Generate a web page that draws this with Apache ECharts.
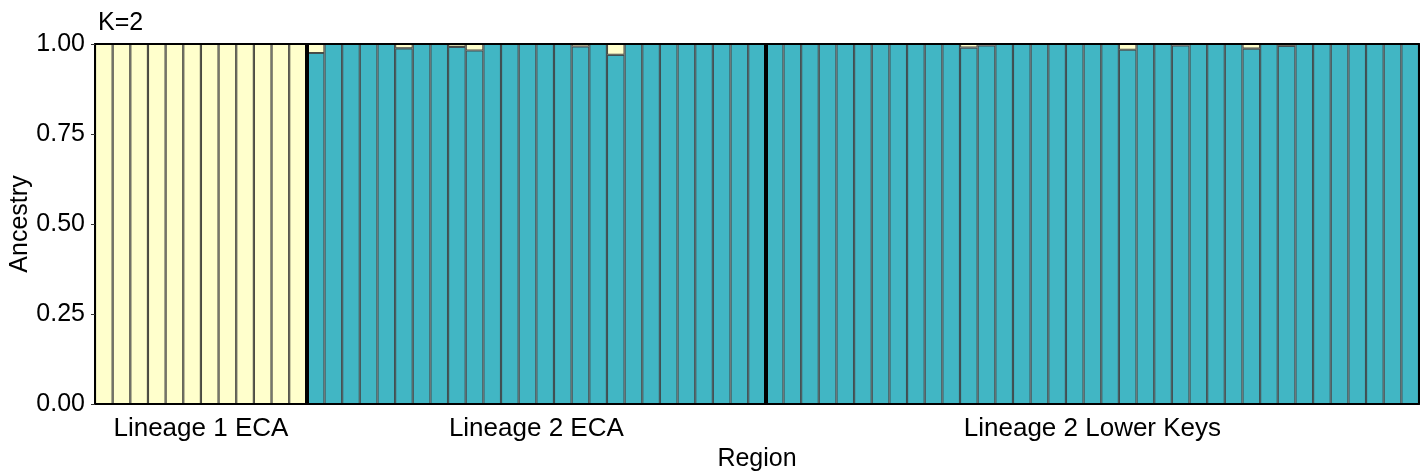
<!DOCTYPE html>
<html>
<head>
<meta charset="utf-8">
<script src="https://cdn.jsdelivr.net/npm/echarts@6/dist/echarts.min.js"></script>
<style>
  html, body { margin: 0; padding: 0; background: #fff; }
  #chart { width: 1424px; height: 472px; }
</style>
</head>
<body>
<div id="chart"></div>
<script>
// groups in sample order
var groupNames = ['Lineage 1 ECA', 'Lineage 2 ECA', 'Lineage 2 Lower Keys'];
var groupSizes = [12, 26, 37];

// ancestry in cluster 1 (yellow), one value per sample
var cluster1 = [
  // Lineage 1 ECA
  1, 1, 1, 1, 1, 1, 1, 1, 1, 1, 1, 1,
  // Lineage 2 ECA
  0.025, 0, 0, 0, 0, 0.012, 0, 0, 0.008, 0.018, 0, 0, 0,
  0, 0, 0.007, 0, 0.03, 0, 0, 0, 0, 0, 0, 0, 0,
  // Lineage 2 Lower Keys
  0, 0, 0, 0, 0, 0, 0, 0, 0, 0, 0, 0.01, 0.004,
  0, 0, 0, 0, 0, 0, 0, 0.016, 0, 0, 0.004, 0, 0,
  0, 0.013, 0, 0.005, 0, 0, 0, 0, 0, 0, 0
];
var yTicks = [0, 0.25, 0.5, 0.75, 1];

var samples = cluster1.map(function (v, i) { return 'S' + (i + 1); });
var cluster2 = cluster1.map(function (v) { return +(1 - v).toFixed(3); });

// boundaries and centres of the groups, in sample units
var bounds = [];
var centres = [];
var acc = 0;
groupSizes.forEach(function (n) {
  centres.push(acc + n / 2);
  acc += n;
  bounds.push(acc);
});
bounds.pop();

var font = 'Liberation Sans, Arial, Helvetica, sans-serif';
var chart = echarts.init(document.getElementById('chart'));

var option = {
  animation: false,
  title: {
    text: 'K=2',
    left: 93,
    top: 6,
    textStyle: { fontFamily: font, fontSize: 25, fontWeight: 'normal', color: '#000' }
  },
  grid: { left: 95, right: 5, top: 44, bottom: 68, containLabel: false, outerBoundsMode: 'none' },
  xAxis: [
    {
      type: 'category',
      data: samples,
      name: 'Region',
      nameLocation: 'middle',
      nameGap: 43,
      nameMoveOverlap: false,
      nameTextStyle: { fontFamily: font, fontSize: 25, color: '#000' },
      axisLine: { show: true, lineStyle: { color: '#000', width: 2 } },
      axisTick: { show: false },
      axisLabel: { show: false },
      z: 10
    },
    {
      type: 'value',
      min: 0,
      max: cluster1.length,
      position: 'top',
      axisLine: { show: true, onZero: false, lineStyle: { color: '#000', width: 2 } },
      axisTick: { show: false },
      axisLabel: { show: false },
      splitLine: { show: false },
      z: 10
    }
  ],
  yAxis: [
    {
      type: 'value',
      min: 0,
      max: 1,
      interval: 0.25,
      name: 'Ancestry',
      nameLocation: 'middle',
      nameGap: 62,
      nameMoveOverlap: false,
      nameTextStyle: { fontFamily: font, fontSize: 25, color: '#000' },
      axisLine: { show: true, lineStyle: { color: '#000', width: 2 } },
      axisTick: { show: true, length: 4, lineStyle: { color: '#333' } },
      axisLabel: {
        fontFamily: font, fontSize: 25, color: '#000', margin: 10,
        formatter: function (v) { return v.toFixed(2); }
      },
      splitLine: { show: false },
      z: 10
    },
    {
      type: 'value',
      min: 0,
      max: 1,
      position: 'right',
      axisLine: { show: true, lineStyle: { color: '#000', width: 2 } },
      axisTick: { show: false },
      axisLabel: { show: false },
      splitLine: { show: false },
      z: 10
    }
  ],
  series: [
    {
      name: 'cluster 2',
      type: 'bar',
      stack: 'q',
      barCategoryGap: 0,
      data: cluster2,
      itemStyle: { color: '#41B6C4', borderColor: '#3f4f52', borderWidth: 1.1 }
    },
    {
      name: 'cluster 1',
      type: 'bar',
      stack: 'q',
      barCategoryGap: 0,
      data: cluster1,
      itemStyle: { color: '#FFFFCC', borderColor: '#4a4a40', borderWidth: 1.1 }
    },
    {
      // carries the thick group separators on the value x axis
      name: 'sep',
      type: 'line',
      xAxisIndex: 1,
      data: [[0, 0]],
      symbol: 'none',
      lineStyle: { width: 0 },
      z: 20,
      markLine: {
        silent: true,
        symbol: 'none',
        label: { show: false },
        lineStyle: { color: '#000', width: 4, type: 'solid' },
        data: bounds.map(function (b) { return { xAxis: b }; })
      }
    }
  ]
};
chart.setOption(option);

// group names under the axis, placed through the axis scale
var baseY = chart.convertToPixel({ yAxisIndex: 0 }, 0);
chart.setOption({
  graphic: centres.map(function (c, i) {
    return {
      type: 'text',
      x: chart.convertToPixel({ xAxisIndex: 1 }, c),
      y: baseY + 25,
      style: {
        text: groupNames[i],
        fontFamily: font,
        fontSize: 26,
        fill: '#000',
        align: 'center',
        verticalAlign: 'middle'
      }
    };
  })
});
</script>
</body>
</html>
